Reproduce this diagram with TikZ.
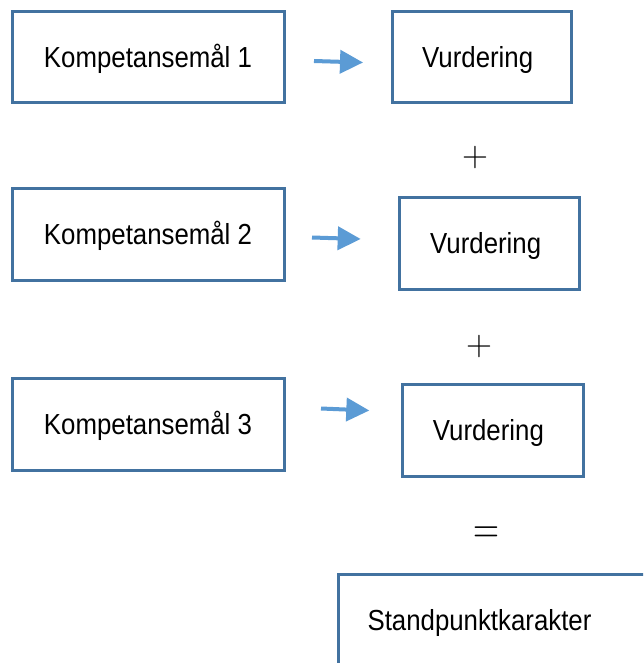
\documentclass[tikz,border=0pt]{standalone}
\usepackage{fontspec}
\setmainfont{Liberation Sans}[FakeStretch=0.89]
\newfontfamily\opfont{Latin Modern Roman}
\usepackage{graphicx}
\usetikzlibrary{arrows.meta}
\definecolor{boxblue}{RGB}{66,114,160}
\definecolor{arrowblue}{RGB}{91,155,213}
\begin{document}
\begin{tikzpicture}[x=1pt,y=-1pt,
  boxnode/.style={draw=boxblue,line width=3pt,inner sep=0pt,text height=20.8pt,text depth=0pt,
    font=\fontsize{29}{34}\selectfont},
  leftbox/.style={boxnode,minimum width=272pt},
  vurdbox/.style={boxnode},
  txt/.style={inner sep=0pt,anchor=base,font=\fontsize{29}{34}\selectfont},
  opnode/.style={inner sep=0pt,anchor=base,font=\opfont\fontsize{36}{40}\selectfont},
  arrowline/.style={draw=arrowblue,line width=4pt,-{Triangle[length=23pt,width=23pt]}}]
\useasboundingbox (0,0) rectangle (643,663);
\fill[white] (0,0) rectangle (643,663);
\clip (0,0) rectangle (643,663);

% left boxes
\node[leftbox,minimum height=91pt] (k1) at (148,57) {Kompetansemål 1};
\node[leftbox,minimum height=92.7pt] (k2) at (148,234.5) {Kompetansemål 2};
\node[leftbox,minimum height=92.7pt] (k3) at (148,424.5) {Kompetansemål 3};

% right boxes
\node[vurdbox,minimum width=179pt,minimum height=91pt] (v1) at (481.7,57.5) {Vurdering\kern8pt};
\node[vurdbox,minimum width=179.7pt,minimum height=92.7pt] (v2) at (489.7,243.5) {Vurdering\kern8pt};
\node[vurdbox,minimum width=181.3pt,minimum height=92pt] (v3) at (492.9,430) {Vurdering\kern9pt};

% arrows
\coordinate (a1s) at (314,61);
\coordinate (a1e) at (363,62.5);
\coordinate (a2s) at (312,237.5);
\coordinate (a2e) at (360.7,239);
\coordinate (a3s) at (321,408.5);
\coordinate (a3e) at (369.3,410.5);
\draw[arrowline] (a1s) -- (a1e);
\draw[arrowline] (a2s) -- (a2e);
\draw[arrowline] (a3s) -- (a3e);

% operators
\node[opnode] (p1) at (475,167) {+};
\node[opnode] (p2) at (479,355) {+};
\node[opnode] (eq) at (486,543) {\scalebox{1}[1.3]{=}};

% result box
\node[draw=boxblue,line width=3pt,inner sep=0pt,anchor=north west,minimum width=400pt,minimum height=150pt] (std) at (336.5,572.5) {};
\node[txt] (stdt) at (479.5,630) {Standpunktkarakter};
\end{tikzpicture}
\end{document}
